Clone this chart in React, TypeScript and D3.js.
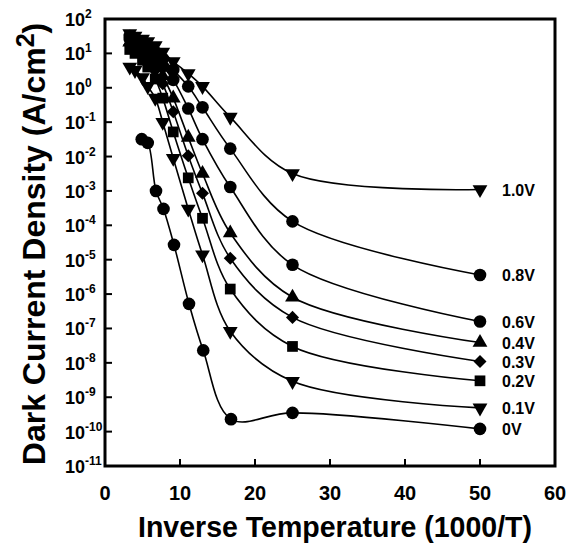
import * as d3 from "d3";

// inverse temperature (1000/T) of the measured points
const invT = [3.3, 4, 5, 5.7, 6.7, 7.7, 9.1, 11.1, 13, 16.7, 25, 50];
const invT0V = [4.9, 5.7, 6.8, 7.8, 9.2, 11.2, 13.1, 16.8, 25, 50];

// dark current density, A/cm^2
const j10V = [38, 32, 26, 22, 17, 11, 5.8, 2.6, 1.1, 0.14, 3.2e-3, 1.1e-3];
const j08V = [32, 26, 20, 16, 11, 7.1, 3.3, 1.1, 0.27, 0.017, 1.3e-4, 3.6e-6];
const j06V = [26, 21, 16, 12, 7.6, 4.2, 1.7, 0.25, 0.032, 1.3e-3, 7.1e-6, 1.6e-7];
const j04V = [21, 17, 12, 8.9, 5.0, 2.2, 0.5, 0.036, 3.2e-3, 6.0e-5, 8.1e-7, 3.9e-8];
const j03V = [18, 14, 9.3, 6.6, 3.3, 1.3, 0.2, 0.0105, 8.5e-4, 1.1e-5, 2.1e-7, 1.1e-8];
const j02V = [13, 10, 6.3, 4.0, 1.8, 0.5, 0.052, 2.4e-3, 1.6e-4, 1.4e-6, 3.0e-8, 3.0e-9];
const j01V = [4.0, 3.2, 2.0, 1.1, 0.5, 0.1, 8.9e-3, 3.0e-4, 1.4e-5, 8.3e-8, 2.9e-9, 4.9e-10];
const j0V = [0.032, 0.025, 1.0e-3, 3.0e-4, 2.7e-5, 5.2e-7, 2.3e-8, 2.3e-10, 3.5e-10, 1.2e-10];

const biasLabels = ["1.0V", "0.8V", "0.6V", "0.4V", "0.3V", "0.2V", "0.1V", "0V"];
const markerKinds = ["triDown", "circle", "circle", "triUp", "diamond", "square", "triDown", "circle"];

const xTicks = [0, 10, 20, 30, 40, 50, 60];
const yExponents = [2, 1, 0, -1, -2, -3, -4, -5, -6, -7, -8, -9, -10, -11];

const W = 574;
const H = 545;
const m = { l: 105, r: 555, t: 19, b: 466 };
const font = "'Liberation Sans', Arial, Helvetica, sans-serif";

const marker = (kind: string) => {
  switch (kind) {
    case "circle":
      return d3.symbol(d3.symbolCircle, 125)();
    case "square":
      return d3.symbol(d3.symbolSquare, 115)();
    case "diamond":
      return d3.symbol(d3.symbolSquare, 85)();
    default:
      return d3.symbol(d3.symbolTriangle, 95)();
  }
};
const markerRotate = (kind: string) =>
  kind === "triDown" ? 180 : kind === "diamond" ? 45 : 0;

export default function App() {
  const x = d3.scaleLinear().domain([0, 60]).range([m.l, m.r]);
  const y = d3.scaleLog().domain([1e-11, 1e2]).range([m.b, m.t]);

  const allJ = [j10V, j08V, j06V, j04V, j03V, j02V, j01V, j0V];
  const series = allJ.map((js, i) => {
    const xs = i === 7 ? invT0V : invT;
    return {
      label: biasLabels[i],
      kind: markerKinds[i],
      pts: js.map((v, k) => [x(xs[k]), y(v)] as [number, number]),
    };
  });

  const line = d3.line().curve(d3.curveCatmullRom.alpha(0.5));

  return (
    <div style={{ position: "absolute", left: 0, top: 0 }}>
      <svg width={W} height={H} style={{ display: "block", background: "#fff" }}>
        {/* curves */}
        <g fill="none" stroke="#000" strokeWidth={1.6}>
          {series.map((s) => (
            <path key={s.label} d={line(s.pts) || ""} />
          ))}
        </g>
        {/* markers */}
        <g fill="#000">
          {series.map((s) =>
            s.pts.map((p, k) => (
              <path
                key={s.label + k}
                d={marker(s.kind) || ""}
                transform={`translate(${p[0]},${p[1]}) rotate(${markerRotate(s.kind)})`}
              />
            ))
          )}
        </g>
        {/* series labels */}
        <g fontFamily={font} fontWeight="bold" fontSize={16}>
          {series.map((s) => {
            const last = s.pts[s.pts.length - 1];
            return (
              <text key={s.label} x={last[0] + 22} y={last[1] + 2} dominantBaseline="middle">
                {s.label}
              </text>
            );
          })}
        </g>
        {/* ticks */}
        <g stroke="#000" strokeWidth={2}>
          {yExponents.slice(1, -1).map((e) => (
            <line key={e} x1={m.l} x2={m.l + 7} y1={y(Math.pow(10, e))} y2={y(Math.pow(10, e))} />
          ))}
          {xTicks.slice(1, -1).map((t) => (
            <line key={t} x1={x(t)} x2={x(t)} y1={m.b} y2={m.b - 7} />
          ))}
        </g>
        {/* frame */}
        <rect x={m.l} y={m.t} width={m.r - m.l} height={m.b - m.t} fill="none" stroke="#000" strokeWidth={3} />
        {/* y tick labels */}
        <g fontFamily={font} fontWeight="bold" fontSize={18}>
          {yExponents.map((e) => (
            <text key={e} x={65} y={y(Math.pow(10, e)) + 7}>
              10
              <tspan fontSize={12} dy={-8}>
                {e}
              </tspan>
            </text>
          ))}
        </g>
        {/* x tick labels */}
        <g fontFamily={font} fontWeight="bold" fontSize={20} textAnchor="middle">
          {xTicks.map((t) => (
            <text key={t} x={x(t)} y={m.b + 34}>
              {t}
            </text>
          ))}
        </g>
        {/* axis titles */}
        <text
          x={335}
          y={537}
          textAnchor="middle"
          fontFamily={font}
          fontWeight="bold"
          fontSize={29}
          textLength={394}
          lengthAdjust="spacingAndGlyphs"
        >
          Inverse Temperature (1000/T)
        </text>
        <text
          transform="translate(45,244) rotate(-90)"
          textAnchor="middle"
          fontFamily={font}
          fontWeight="bold"
          fontSize={32}
        >
          Dark Current Density (A/cm
          <tspan fontSize={25} dy={-11}>
            2
          </tspan>
          <tspan dy={11}>)</tspan>
        </text>
      </svg>
    </div>
  );
}
